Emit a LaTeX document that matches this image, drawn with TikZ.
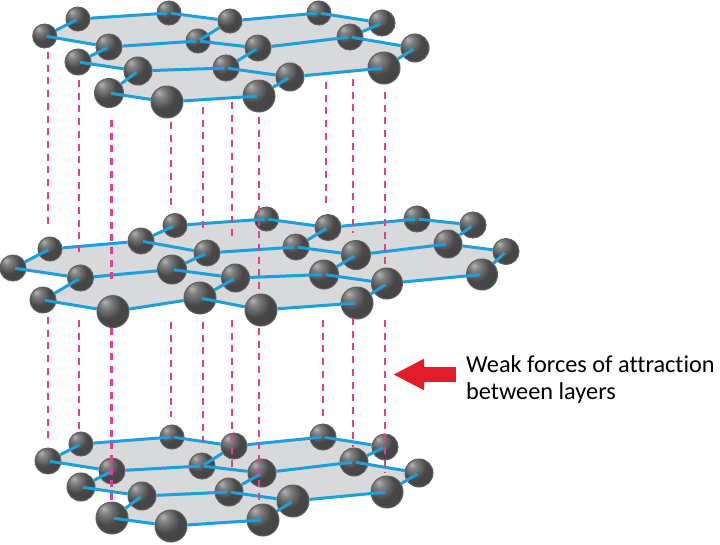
\documentclass[tikz,border=0pt]{standalone}
\usepackage{fontspec}
\setmainfont{Carlito}[Ligatures=NoCommon]
\usetikzlibrary{arrows.meta,backgrounds}
\definecolor{atomrim}{RGB}{96,96,98}
\definecolor{bondblue}{RGB}{28,160,220}
\definecolor{sheetgray}{RGB}{216,217,219}
\definecolor{weakpink}{RGB}{220,64,150}
\definecolor{arrowred}{RGB}{226,28,40}
\pgfdeclareradialshading{atomball}{\pgfpoint{-13bp}{15bp}}{%
    color(0bp)=(black!30);
    color(8bp)=(black!50);
    color(22bp)=(black!72);
    color(50bp)=(black!74);
    color(80bp)=(black!76)}
\tikzset{
    atom/.style = {
        circle,
        shading = atomball,
        draw = atomrim,
        line width = 1pt,
        inner sep = 0pt,
        },
    bond/.style = {
        draw = bondblue,
        line width = 3pt,
        shorten > = 2pt,
        },
    sheet/.style = {
        fill = sheetgray,
        },
    weak bond/.style = {
        draw = weakpink,
        line width = 2.2pt,
        dash pattern = on 7pt off 5.7pt,
        },
    label text/.style = {
        anchor = west,
        font = \fontsize{24.3}{28}\selectfont,
        inner sep = 0pt,
    },
}

\begin{document}
\begin{tikzpicture}[x=1pt, y=-1pt]
    \useasboundingbox (0,0) rectangle (720,544);

    % top layer
    \foreach \name/\x/\y/\r in {t1/44.7/36/12, t2/78/19/12, t3/169/13/12, t4/230/21/12, t5/319/13/12,
        t6/382/23/13, t7/350/37/13, t8/415/48/14, t9/384/68/16, t10/109/47/13, t11/198/41/12,
        t12/258/48/13, t13/78/62/13, t14/138/71/14, t15/226/68/13, t16/290/77/14, t17/109/93/14.5,
        t18/167/102/16, t19/259/96/16}
        \node [atom, minimum size=2*\r pt] (\name) at (\x,\y) {};

    % middle layer
    \foreach \name/\x/\y/\r in {m1/13/268/13, m2/50/249/12, m3/141/241/13, m4/175/225.5/12,
        m5/266.5/219/12, m6/328/227.5/13, m7/417/219/13, m8/473/225/13, m9/448/244/14,
        m10/506/251.5/13, m11/482/274.5/15.5, m12/207/253/13, m13/296/247/13, m14/356/255/14.5,
        m15/80.5/278/13, m16/172/269.5/14.5, m17/235.5/278/14, m18/324/274.5/14.5,
        m19/387/283.5/15.5, m20/43/300/13, m21/113/311.6/16, m22/200/298/16, m23/261/310/16,
        m24/357/303/16}
        \node [atom, minimum size=2*\r pt] (\name) at (\x,\y) {};

    % bottom layer
    \foreach \name/\x/\y/\r in {b1/48/461/13, b2/81/444/12, b3/172/437/12, b4/234/446/13,
        b5/323/437/13, b6/385/447/13, b7/354/462/14, b8/419/473/14, b9/387/492/16, b10/112/471/13,
        b11/202/466/13, b12/262/473/14, b13/81/487/14, b14/142/496/14, b15/229/492/14,
        b16/293/501/16, b17/112/518/16, b18/171/526/16, b19/263/520/16}
        \node [atom, minimum size=2*\r pt] (\name) at (\x,\y) {};

    \begin{scope}[on background layer]
        \path [sheet] (t1.center) -- (t2.center) -- (t3.center) -- (t4.center) -- (t5.center)
            -- (t6.center) -- (t7.center) -- (t8.center) -- (t9.center) -- (t16.center)
            -- (t19.center) -- (t18.center) -- (t17.center) -- (t14.center) -- (t13.center)
            -- (t10.center) -- cycle;
        \path [sheet] (m1.center) -- (m2.center) -- (m3.center) -- (m4.center) -- (m5.center)
            -- (m6.center) -- (m7.center) -- (m8.center) -- (m9.center) -- (m10.center)
            -- (m11.center) -- (m19.center) -- (m24.center) -- (m23.center) -- (m22.center)
            -- (m21.center) -- (m20.center) -- (m15.center) -- cycle;
        \path [sheet] (b1.center) -- (b2.center) -- (b3.center) -- (b4.center) -- (b5.center)
            -- (b6.center) -- (b7.center) -- (b8.center) -- (b9.center) -- (b16.center)
            -- (b19.center) -- (b18.center) -- (b17.center) -- (b14.center) -- (b13.center)
            -- (b10.center) -- cycle;
    \end{scope}

    % same bonds in top and bottom layer
    \foreach \l in {t,b}
        \foreach \a/\c in {1/2, 2/3, 4/3, 4/5, 6/5, 7/6, 8/7, 9/8, 10/1, 10/11, 4/11, 12/11, 12/7,
            15/12, 16/15, 14/15, 14/13, 13/10, 17/14, 18/17, 18/19, 19/16, 16/9}
            \draw [bond] (\l\a) -- (\l\c.center);

    \foreach \a/\c in {m1/m2, m15/m1, m3/m4, m12/m3, m4/m5, m6/m5, m6/m7, m8/m7, m9/m8,
        m11/m10, m14/m9, m13/m6, m14/m13, m12/m13, m16/m12, m17/m16, m20/m15,
        m21/m20, m22/m17, m23/m22, m23/m24, m24/m19, m17/m18, m18/m14, m19/m18, m19/m11}
        \draw [bond] (\a) -- (\c.center);

    % these stop at the rim
    \foreach \a/\c in {m2/m3, m9/m10, m15/m16, m21/m22}
        \draw [bond, shorten >=0pt] (\a) -- (\c);

    % upper gap
    \foreach \i/\x/\s/\e in {1/47.6/52/227, 2/79/80/255, 3/111.5/120/284, 4/170.6/122/207,
        5/202.7/107/230, 6/232/102/240, 7/259/117/293, 8/326/82/205, 9/353/79/233, 10/385/92/265}{
        \coordinate (up\i) at (\x,\s);
        \coordinate (uq\i) at (\x,\e);
        \draw [weak bond] (up\i) -- (uq\i);
    }

    % lower gap
    \foreach \i/\x/\s/\e in {1/47.6/317/440, 2/79/320/432, 3/111.5/328/500, 4/170.6/322/417,
        5/202.7/322/443, 6/232/320/470, 7/259/328/500, 8/323/320/420, 9/353/318/447, 10/385/320/473}{
        \coordinate (lp\i) at (\x,\s);
        \coordinate (lq\i) at (\x,\e);
        \draw [weak bond] (lp\i) -- (lq\i);
    }

    \node [label text] (weak) at (466,364) {Weak forces of attraction};
    \node [label text] (layers) at (466,393) {between layers};

    \coordinate (arrow tail) at (456,374.5);
    \coordinate (arrow tip) at (393,374.5);
    \draw [-{Triangle[length=31pt, width=29pt]}, arrowred, line width=15pt] (arrow tail) -- (arrow tip);
\end{tikzpicture}
\end{document}
